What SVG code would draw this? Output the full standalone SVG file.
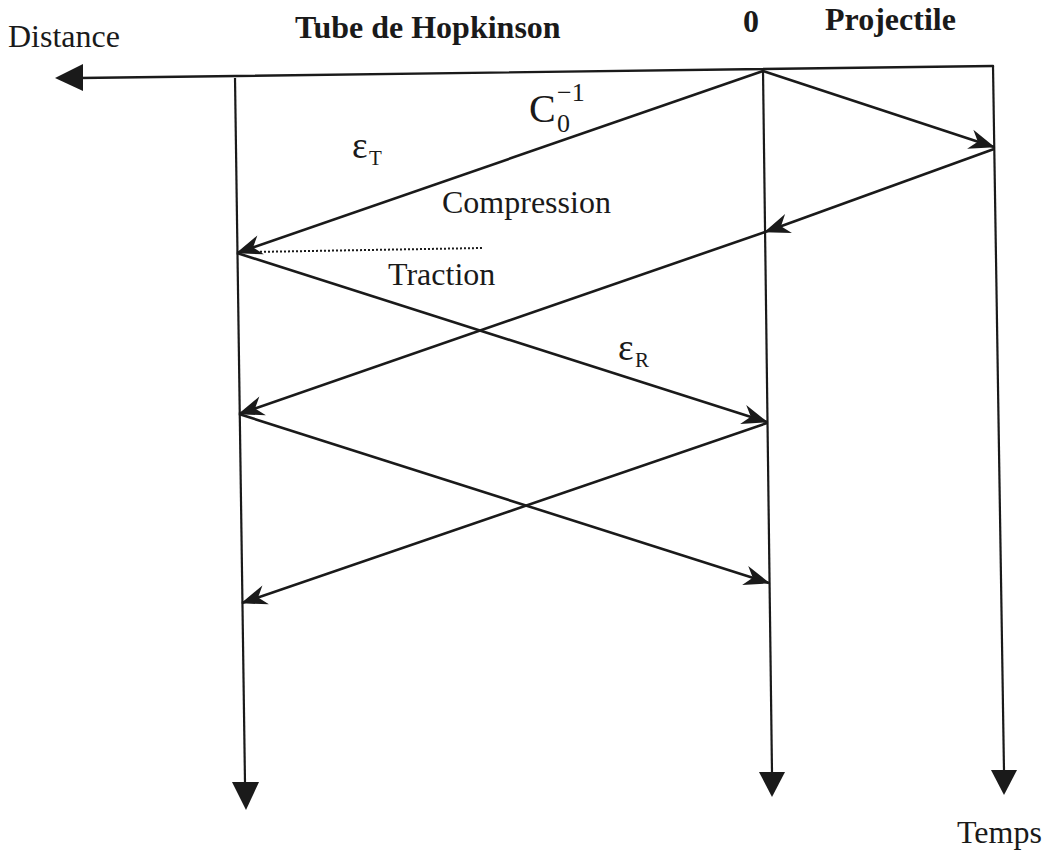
<svg xmlns="http://www.w3.org/2000/svg" width="1054" height="854" viewBox="0 0 1054 854">
<style>
.ln{stroke:#1a1a1a;stroke-width:2.4;fill:none;stroke-linecap:round}
.ax{stroke:#1a1a1a;stroke-width:2.2;fill:none}
.wave{stroke:#1a1a1a;stroke-width:2.6;fill:none;marker-end:url(#barb)}
.head{fill:#1a1a1a}
.t{font-family:"Liberation Serif","Times New Roman",serif;fill:#1a1a1a;font-size:32px}
.b{font-weight:bold}
</style>
<defs>
<marker id="barb" viewBox="-28 -12 30 24" markerWidth="30" markerHeight="24" refX="0" refY="0" orient="auto" markerUnits="userSpaceOnUse" overflow="visible">
<path d="M1,0 L-25,-10 L-17,0 L-25,10 Z" fill="#1a1a1a"/>
</marker>
</defs>
<rect width="1054" height="854" fill="#ffffff"/>

<g id="axes">
<line class="ln" x1="993" y1="66" x2="80" y2="78"/>
<polygon class="head" points="83,64 83,91 55,78"/>
<line class="ax" x1="235" y1="78" x2="245" y2="783"/>
<polygon class="head" points="232,782 259,782 246,810"/>
<line class="ax" x1="763" y1="70" x2="772" y2="773"/>
<polygon class="head" points="759,772 785,772 772,797"/>
<line class="ax" x1="993" y1="66" x2="1004" y2="771"/>
<polygon class="head" points="991,770 1017,770 1004,795"/>
</g>

<g id="connectors">
<path class="wave" d="M763,71 L237,253"/>
<path class="wave" d="M763,71 L994,147"/>
<path class="wave" d="M994,149 L765,232"/>
<path class="wave" d="M765,232 L239,414"/>
<path class="wave" d="M237,253 L767,422"/>
<path class="wave" d="M239,414 L769,583"/>
<path class="wave" d="M767,423 L242,603"/>
<line x1="252" y1="252" x2="483" y2="248" stroke="#1a1a1a" stroke-width="2" stroke-dasharray="2,2"/>
</g>

<g id="labels">
<text class="t" x="8" y="47">Distance</text>
<text class="t b" x="295" y="38">Tube de Hopkinson</text>
<text class="t b" x="743" y="32">0</text>
<text class="t b" x="825" y="30">Projectile</text>
<text class="t" x="957" y="843">Temps</text>
<text class="t" x="442" y="213">Compression</text>
<text class="t" x="388" y="285">Traction</text>
</g>

<g id="c0-label">
<text class="t" x="529" y="122" style="font-size:40px">C</text>
<text class="t" x="557" y="132" style="font-size:26px">0</text>
<text class="t" x="557" y="101" style="font-size:26px">−1</text>
</g>

<g id="epsT-label">
<text class="t" x="352" y="158" style="font-size:37px">ε</text>
<text class="t" x="369" y="165" style="font-size:21px">T</text>
</g>

<g id="epsR-label">
<text class="t" x="618" y="360" style="font-size:37px">ε</text>
<text class="t" x="635" y="367" style="font-size:21px">R</text>
</g>
</svg>
